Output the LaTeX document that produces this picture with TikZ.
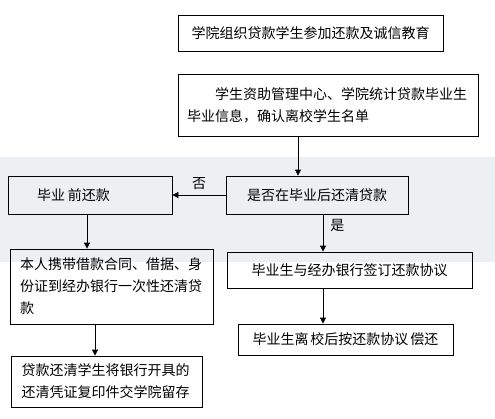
\documentclass[tikz,border=0pt]{standalone}
\usepackage{fontspec}
\newfontfamily\cjk{Noto Sans CJK SC}
\usetikzlibrary{arrows.meta}
\definecolor{band}{RGB}{237,240,243}
\begin{document}
\begin{tikzpicture}[x=1pt,y=-1pt,
  box/.style={draw=black, line width=0.8pt, inner sep=0pt, font=\cjk\fontsize{14pt}{22pt}\selectfont},
  arr/.style={line width=0.8pt, -{Triangle[length=6pt,width=6pt]}},
  lbl/.style={font=\cjk\fontsize{14pt}{16pt}\selectfont, inner sep=1pt}]
\useasboundingbox (0,0) rectangle (495,418);
\fill[band] (0,157) rectangle (495,262);
\node[box, minimum width=265pt, minimum height=36pt] (b1) at (310.5,33) {学院组织贷款学生参加还款及诚信教育};
\node[box, minimum width=300pt, minimum height=62pt, text width=282pt, align=left] (b2) at (328,105) {\hspace*{28pt}学生资助管理中心、学院统计贷款毕业生\\毕业信息，确认离校学生名单};
\node[box, minimum width=182pt, minimum height=38pt] (mid) at (317,195) {是否在毕业后还清贷款};
\node[box, minimum width=164pt, minimum height=38pt, text width=106pt, inner xsep=29pt, align=left] (lft) at (90,195) {毕业\hspace{3pt}前还款};
\node[box, minimum width=245pt, minimum height=36pt] (r1) at (349.5,270) {毕业生与经办银行签订还款协议};
\node[box, minimum width=215pt, minimum height=31pt] (r2) at (345.5,339.5) {毕业生离\hspace{2pt}校后按还款协议\hspace{2pt}偿还};
\node[box, minimum width=203pt, minimum height=75pt, text width=183pt, align=left] (l2) at (111.5,286.5) {本人携带借款合同、借据、身\\份证到经办银行一次性还清贷\\款};
\node[box, minimum width=191pt, minimum height=51pt, text width=170pt, align=left] (l3) at (106.5,381.5) {贷款还清学生将银行开具的\\还清凭证复印件交学院留存};
\coordinate (c1) at (298,0);
\coordinate (c2) at (323,0);
\coordinate (c3) at (87,0);
\coordinate (c4) at (95,0);
\draw[arr] (b2.south -| c1) -- (mid.north -| c1);
\draw[arr] (mid.west) -- (lft.east) node[lbl, midway, above, yshift=4pt] {否};
\draw[arr] (mid.south -| c2) -- (r1.north -| c2) node[lbl, pos=0.3, right, xshift=6pt] {是};
\draw[arr] (r1.south -| c2) -- (r2.north -| c2);
\draw[arr] (lft.south -| c3) -- (l2.north -| c3);
\draw[arr] (l2.south -| c4) -- (l3.north -| c4);
\end{tikzpicture}
\end{document}
